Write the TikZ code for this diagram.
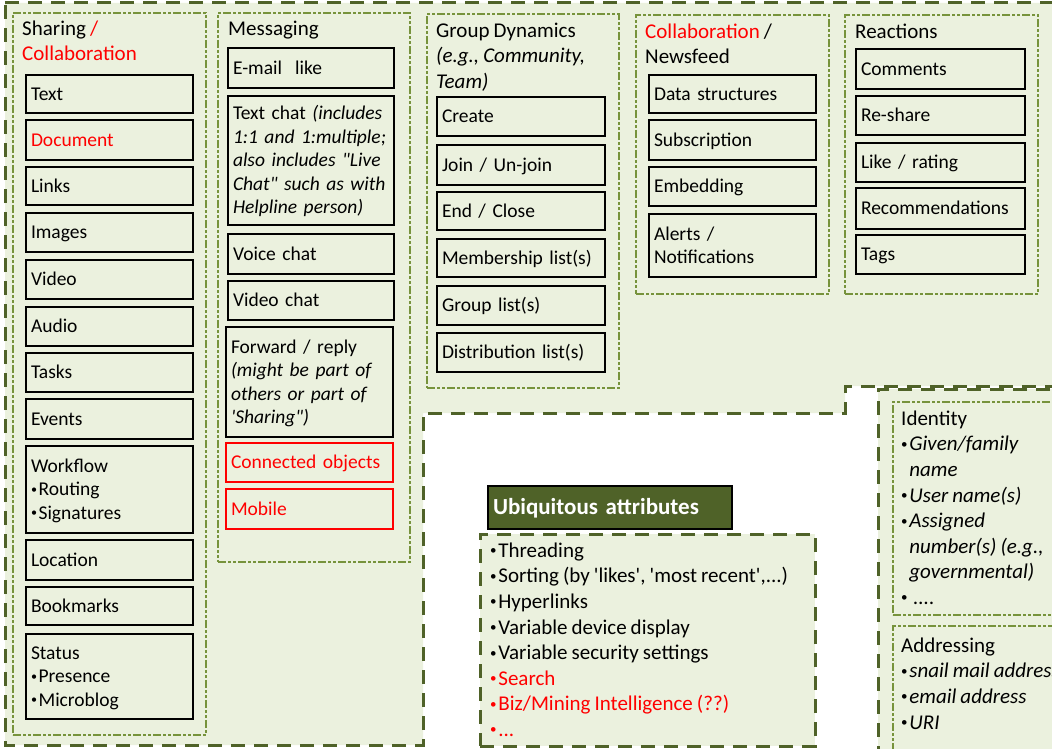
\documentclass[tikz,border=0pt]{standalone}
\usepackage{fontspec}
\setmainfont{Carlito}[WordSpace=0.85]
\definecolor{lightfill}{HTML}{EBF1DE}
\definecolor{olivedark}{HTML}{4F6228}
\definecolor{olivemid}{HTML}{77933C}
\definecolor{txtred}{HTML}{FF0000}
\newcommand\capstrut{\rule{0pt}{18.6pt}}
\newcommand\dpstrut{\rule[-6pt]{0pt}{6pt}}
\newcommand\sbul{\raisebox{0.12em}{\scalebox{0.62}{•}}\hspace{0.08em}}
\newcommand\ibox[7][]{%
  \pgfmathsetmacro\bw{#5-#3}%
  \pgfmathsetmacro\bh{#6-#4}%
  \pgfmathsetmacro\tw{#5-#3-8}%
  \node[itembox,minimum width=\bw pt,minimum height=\bh pt,text width=\tw pt,#1] (#2) at ({(#3+#5)/2},{(#4+#6)/2}) {\capstrut#7\dpstrut};%
}
\newcommand\gbox[6][]{%
  \pgfmathsetmacro\bw{#5-#3}%
  \pgfmathsetmacro\bh{#6-#4}%
  \node[grpbox,minimum width=\bw pt,minimum height=\bh pt,#1] (#2) at ({(#3+#5)/2},{(#4+#6)/2}) {};%
}
\tikzset{
  itembox/.style={draw=black, line width=1.5pt, rectangle, inner xsep=5pt, inner ysep=0pt,
    align=left, font=\fontsize{19.5}{23.5}\selectfont, text=black},
  redbox/.style={draw=txtred, text=txtred},
  grpbox/.style={draw=olivemid, line width=2.6pt, rectangle, inner sep=0pt,
    dash pattern=on 8pt off 2pt on 3pt off 2pt on 3pt off 2pt},
  bigdash/.style={draw=olivedark, line width=3pt, dash pattern=on 14pt off 9pt},
  titletext/.style={anchor=north west, inner sep=0pt, align=left, text=black,
    font=\fontsize{21}{25.5}\selectfont},
  listtext/.style={anchor=north west, inner sep=0pt, align=left, text=black,
    font=\fontsize{21}{25.6}\selectfont},
  hdrbox/.style={draw=black, fill=olivedark, line width=1.5pt, rectangle,
    inner xsep=5pt, inner ysep=0pt, align=left, text=white,
    font=\bfseries\fontsize{23}{27}\selectfont, text height=14.8pt, text depth=0pt},
}
\begin{document}
\begin{tikzpicture}[x=1pt,y=-1pt]
\useasboundingbox (0,0) rectangle (1052,749);
\clip (0,0) rectangle (1052,749);
\fill[white] (0,0) rectangle (1052,749);

% big outer region
\draw[bigdash, fill=lightfill] (5,3) -- (1065,3) -- (1065,386) -- (845,386) -- (845,413)
  -- (423,413) -- (423,745) -- (5,745) -- cycle;

% group containers
\gbox{sharing}{13}{13}{206}{735}
\gbox{messaging}{218}{13}{410}{562}
\gbox{groupdyn}{427}{14}{619}{388}
\gbox{collab}{636}{15}{829}{294}
\gbox{reactions}{845}{15}{1038}{294}

% identity / addressing
\gbox[bigdash,fill=lightfill]{idouter}{878}{389}{1075}{765}
\gbox[fill=lightfill]{identity}{893}{402}{1075}{615}
\gbox[fill=lightfill]{addressing}{893}{626}{1075}{765}

% ubiquitous
\gbox[bigdash,fill=lightfill]{ubiq}{480}{534}{815}{746}
\node[hdrbox, minimum width=244pt, minimum height=43pt, text width=234pt] (ubiqhdr) at (610,507.5) {Ubiquitous attributes};

% titles
\node[titletext] (t-sharing) at (22,17.15) {\strut Sharing \textcolor{txtred}{/}\\\textcolor{txtred}{Collaboration}};
\node[titletext] (t-messaging) at (228,17.15) {\strut Messaging};
\node[titletext] (t-group) at (436,19.15) {\strut Group Dynamics\\\textit{(e.g., Community,}\\\textit{Team)}};
\node[titletext] (t-collab) at (645,20.15) {\strut\textcolor{txtred}{Collaboration} /\\Newsfeed};
\node[titletext] (t-reactions) at (855,20.15) {\strut Reactions};

% sharing items
\ibox{s-text}{27}{75}{192}{113}{Text}
\ibox[text=txtred]{s-doc}{27}{120}{192}{160}{Document}
\ibox{s-links}{27}{167}{192}{205}{Links}
\ibox{s-images}{27}{213}{192}{252}{Images}
\ibox{s-video}{27}{260}{192}{299}{Video}
\ibox{s-audio}{27}{307}{192}{346}{Audio}
\ibox{s-tasks}{27}{353}{192}{392}{Tasks}
\ibox{s-events}{27}{399}{192}{439}{Events}
\ibox{s-workflow}{27}{446}{192}{533}{Workflow\\\sbul Routing\\\sbul Signatures}
\ibox{s-location}{27}{540}{192}{580}{Location}
\ibox{s-bookmarks}{27}{587}{192}{625}{Bookmarks}
\ibox{s-status}{27}{634}{192}{719}{Status\\\sbul Presence\\\sbul Microblog}

% messaging items
\ibox{m-email}{229}{48}{393}{88}{E-mail\ \ like}
\ibox{m-textchat}{229}{96}{393}{225}{Text chat \textit{(includes}\\\textit{1:1 and 1:multiple;}\\\textit{also includes \textquotedbl Live}\\\textit{Chat\textquotedbl\ such as with}\\\textit{Helpline person)}}
\ibox{m-voice}{229}{234}{393}{274}{Voice chat}
\ibox{m-videochat}{229}{281}{393}{320}{Video chat}
\ibox{m-forward}{227}{327}{392}{437}{Forward / reply\\\textit{(might be part of}\\\textit{others or part of}\\\textit{\textquotesingle Sharing\textquotedbl)}}
\ibox[redbox]{m-connected}{227}{443}{392}{482}{Connected objects}
\ibox[redbox]{m-mobile}{227}{489}{392}{529}{Mobile}

% group dynamics items
\ibox{g-create}{438}{97}{604}{136}{Create}
\ibox{g-join}{438}{145}{604}{185}{Join / Un-join}
\ibox{g-end}{438}{192}{604}{230}{End / Close}
\ibox{g-member}{438}{239}{604}{277}{Membership list(s)}
\ibox{g-grouplist}{438}{286}{604}{325}{Group list(s)}
\ibox{g-distrib}{438}{333}{604}{372}{Distribution list(s)}

% collaboration / newsfeed items
\ibox{c-data}{650}{75}{815}{113}{Data structures}
\ibox{c-sub}{650}{120}{815}{160}{Subscription}
\ibox{c-embed}{650}{167}{815}{206}{Embedding}
\ibox{c-alerts}{650}{214}{815}{277}{Alerts /\\Notifications}

% reactions items
\ibox{r-comments}{857}{49}{1024}{89}{Comments}
\ibox{r-reshare}{857}{96}{1024}{135}{Re-share}
\ibox{r-like}{857}{143}{1024}{182}{Like / rating}
\ibox{r-recom}{857}{188}{1024}{229}{Recommendations}
\ibox{r-tags}{857}{235}{1024}{274}{Tags}

% ubiquitous list
\node[listtext] (u-list) at (490,539.1) {\strut\sbul Threading\\
\sbul Sorting (by \textquotesingle likes\textquotesingle, \textquotesingle most recent\textquotesingle,...)\\
\sbul Hyperlinks\\
\sbul Variable device display\\
\sbul Variable security settings\\
\textcolor{txtred}{\sbul Search}\\
\textcolor{txtred}{\sbul Biz/Mining Intelligence (??)}\\
\textcolor{txtred}{\sbul ...}};

% identity text
\node[listtext] (id-list) at (901,407.15) {\strut Identity\\
\sbul\textit{Given/family}\\
\phantom{\sbul}\textit{name}\\
\sbul\textit{User name(s)}\\
\sbul\textit{Assigned}\\
\phantom{\sbul}\textit{number(s) (e.g.,}\\
\phantom{\sbul}\textit{governmental)}\\
\sbul\ \textit{....}};

% addressing text
\node[listtext] (ad-list) at (901,634.15) {\strut Addressing\\
\sbul\textit{snail mail address}\\
\sbul\textit{email address}\\
\sbul\textit{URI}};
\end{tikzpicture}
\end{document}
